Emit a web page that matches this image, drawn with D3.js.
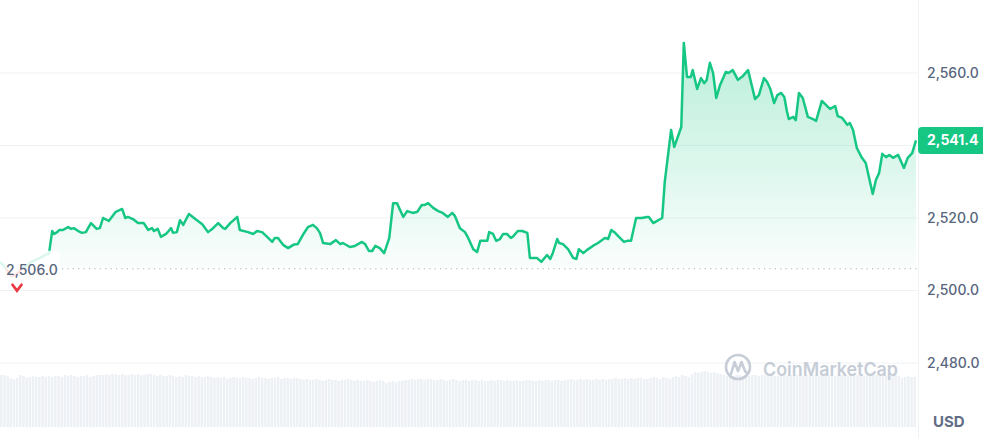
<!DOCTYPE html>
<html>
<head>
<meta charset="utf-8">
<script src="https://cdn.jsdelivr.net/npm/d3@7"></script>
<style>
  html, body { margin: 0; padding: 0; background: #fff; }
  svg { display: block; font-family: Inter, "Noto Sans", sans-serif; }
</style>
</head>
<body>
<svg id="chart" width="983" height="438"></svg>
<script>
// ---- DATA ----
// minutes since start of the 24h window
const times = [0,6,13,19,25,31,39,47,55,63,68,74,77,82,85,90,93,99,107,112,116,123,129,135,143,152,157,162,171,182,192,197,201,209,217,226,233,239,242,248,253,261,269,272,278,283,288,297,307,318,327,335,343,351,354,362,366,373,377,390,398,404,412,420,428,432,437,445,453,461,468,476,484,492,498,503,508,519,528,535,539,550,558,569,574,580,585,590,597,604,612,618,624,634,640,649,656,663,668,673,681,689,696,704,711,715,723,731,736,744,750,755,762,766,769,775,780,786,791,797,803,806,814,821,829,833,844,851,860,865,869,876,879,885,893,901,906,910,917,923,932,940,951,956,961,967,973,981,986,992,1000,1009,1017,1020,1027,1033,1041,1045,1055,1060,1071,1075,1080,1086,1089,1096,1102,1107,1111,1116,1121,1126,1132,1141,1145,1152,1160,1168,1176,1187,1193,1201,1206,1211,1217,1222,1228,1233,1237,1240,1247,1251,1256,1262,1270,1278,1283,1292,1300,1305,1313,1317,1324,1332,1336,1341,1347,1355,1361,1372,1377,1382,1387,1393,1398,1404,1412,1421,1427,1434,1440];
const prices = [2507.9,2506.8,2505.1,2504.0,2504.3,2505.4,2506.5,2507.6,2508.4,2509.0,2509.5,2510.1,2510.1,2516.4,2515.6,2516.1,2516.7,2516.7,2517.5,2517.0,2517.2,2516.4,2515.9,2516.1,2518.6,2517.0,2517.2,2520.0,2519.2,2521.7,2522.5,2520.0,2520.3,2519.7,2518.6,2518.6,2516.7,2517.2,2516.4,2517.0,2514.8,2515.6,2517.2,2515.9,2516.1,2519.4,2518.1,2521.1,2519.7,2518.3,2516.1,2517.2,2518.6,2517.2,2517.0,2518.6,2519.2,2520.3,2516.7,2516.1,2515.6,2516.4,2516.1,2514.8,2513.4,2514.5,2514.5,2512.6,2511.7,2512.6,2512.8,2515.3,2517.5,2518.1,2517.2,2515.9,2513.1,2512.8,2513.9,2512.8,2513.1,2512.0,2512.3,2513.4,2512.8,2510.9,2510.9,2512.3,2511.7,2510.3,2514.5,2524.1,2524.1,2520.3,2521.9,2521.4,2521.7,2523.6,2523.6,2524.1,2522.8,2521.9,2521.4,2520.3,2521.4,2520.6,2517.2,2516.1,2514.5,2511.4,2510.6,2513.7,2513.7,2513.7,2516.1,2515.6,2513.7,2514.2,2515.6,2515.6,2514.5,2514.8,2516.4,2516.4,2515.9,2509.0,2509.0,2507.9,2509.8,2508.7,2510.3,2514.2,2513.1,2512.8,2511.4,2509.0,2508.7,2511.4,2510.3,2511.2,2512.3,2513.1,2514.5,2514.2,2516.7,2515.9,2514.8,2513.4,2513.7,2513.7,2520.0,2520.0,2520.3,2520.3,2518.6,2519.2,2520.0,2529.9,2544.3,2539.6,2545.1,2568.3,2558.9,2558.9,2560.8,2555.6,2558.6,2557.2,2558.1,2562.8,2560.0,2553.1,2556.7,2560.3,2560.0,2560.8,2558.1,2559.2,2560.8,2552.8,2553.9,2558.6,2557.5,2555.6,2551.7,2553.9,2554.5,2553.4,2549.5,2547.3,2547.9,2547.0,2554.5,2553.1,2547.9,2547.3,2546.8,2552.3,2550.9,2550.1,2550.9,2548.1,2547.6,2545.7,2546.2,2544.3,2539.3,2536.6,2535.2,2526.6,2530.5,2532.4,2537.7,2536.8,2537.4,2536.6,2537.4,2533.8,2536.6,2537.9,2541.4];
// 5-minute volume bars (arbitrary units)
const volumes = [
52,52,51,49,48,49,52,51,49,50,51,50,50,51,50,51,50,51,51,50,52,51,52,51,50,51,51,52,50,51,52,52,
52,53,52,53,53,52,53,52,52,53,52,53,52,52,53,53,52,51,52,51,51,52,51,50,51,50,52,51,51,50,51,
50,50,51,50,49,50,49,50,48,49,50,49,49,50,49,49,48,49,50,49,49,48,49,49,50,48,49,49,48,49,49,48,
47,48,47,47,48,47,46,47,48,47,47,46,47,47,48,47,46,47,46,46,47,46,45,46,47,46,44,45,46,45,46,
46,47,47,48,47,48,48,47,48,48,47,47,48,47,46,47,48,47,46,47,47,46,47,47,46,47,46,46,47,46,47,47,
46,47,46,46,47,46,46,47,47,46,46,47,46,47,47,46,47,47,46,47,47,48,47,47,48,47,48,47,47,48,47,
48,47,48,48,49,48,48,49,48,49,48,49,49,48,48,49,50,49,48,50,49,48,50,51,50,52,51,50,
53,55,54,55,56,55,54,55,54,53,
52,51,52,51,52,52,51,52,51,52,52,51,52,52,51,52,51,51,52,52,51,52,51,52,52,51,52,51,52,52,51,52,52,51,52,51,52,52,51,51,52,51,52,52,51,52,51,52,52,51,52,51,50,51,52,51,49,50,51,50,50];
const yTicks = [2480, 2500, 2520, 2540, 2560];
const basePrice = 2506.0;
const currency = "USD";
const watermark = "CoinMarketCap";

// ---- LAYOUT ----
const W = 983, H = 438;
const plotRight = 918;
const green = "#16c784", red = "#ea3943";
const svg = d3.select("#chart");

const x = d3.scaleLinear().domain([0, 1440]).range([0, 916]);
const y = d3.scaleLinear().domain([2480, 2560]).range([363, 73]);
const xb = d3.scaleBand().domain(d3.range(volumes.length)).range([0, 916]).paddingInner(0.22);
const yv = d3.scaleLinear().domain([0, 60]).range([427, 367]);

const data = times.map((t, i) => ({t, p: prices[i]}));
const by = y(basePrice);
const last = prices[prices.length - 1];
const ly = y(last);

const defs = svg.append("defs");
const gGrad = defs.append("linearGradient").attr("id", "gfill")
  .attr("gradientUnits", "userSpaceOnUse").attr("x1", 0).attr("x2", 0)
  .attr("y1", y(d3.max(prices))).attr("y2", by);
gGrad.append("stop").attr("offset", 0).attr("stop-color", green).attr("stop-opacity", 0.3);
gGrad.append("stop").attr("offset", 1).attr("stop-color", green).attr("stop-opacity", 0.02);
const rGrad = defs.append("linearGradient").attr("id", "rfill")
  .attr("gradientUnits", "userSpaceOnUse").attr("x1", 0).attr("x2", 0)
  .attr("y1", by).attr("y2", y(d3.min(prices)));
rGrad.append("stop").attr("offset", 0).attr("stop-color", red).attr("stop-opacity", 0.02);
rGrad.append("stop").attr("offset", 1).attr("stop-color", red).attr("stop-opacity", 0.25);
defs.append("clipPath").attr("id", "above").append("rect")
  .attr("x", 0).attr("y", 0).attr("width", plotRight).attr("height", by);
defs.append("clipPath").attr("id", "below").append("rect")
  .attr("x", 0).attr("y", by).attr("width", plotRight).attr("height", H - by);

// grid lines
svg.append("g").selectAll("line").data(yTicks).join("line")
  .attr("x1", 0).attr("x2", plotRight)
  .attr("y1", d => y(d)).attr("y2", d => y(d))
  .attr("stroke", "#eff2f5").attr("stroke-width", 1);
svg.append("line").attr("x1", plotRight + 0.5).attr("x2", plotRight + 0.5)
  .attr("y1", 0).attr("y2", H).attr("stroke", "#eff2f5");

// volume bars
svg.append("g").selectAll("rect").data(volumes).join("rect")
  .attr("x", (d, i) => xb(i)).attr("width", xb.bandwidth())
  .attr("y", d => yv(d)).attr("height", d => yv(0) - yv(d))
  .attr("fill", "#edf0f4");

// watermark
const wm = svg.append("g").attr("fill", "none").attr("stroke", "#c6cdd7");
wm.append("circle").attr("cx", 738).attr("cy", 367).attr("r", 12).attr("stroke-width", 2.6);
wm.append("path").attr("d", "M731,374 L734.5,362 L738,371 L741.5,362 L745,371 Q747,374 749,372")
  .attr("stroke-width", 2.6).attr("stroke-linejoin", "round").attr("stroke-linecap", "round");
svg.append("text").attr("x", 763).attr("y", 375.5).text(watermark)
  .attr("font-size", 19).attr("font-weight", 600).attr("fill", "#c6cdd7")
  .attr("textLength", 135).attr("lengthAdjust", "spacingAndGlyphs");

// areas
const areaAbove = d3.area().x(d => x(d.t)).y0(by).y1(d => y(d.p)).curve(d3.curveLinear);
svg.append("path").datum(data).attr("d", areaAbove).attr("fill", "url(#gfill)").attr("clip-path", "url(#above)");
svg.append("path").datum(data).attr("d", areaAbove).attr("fill", "url(#rfill)").attr("clip-path", "url(#below)");

// baseline dotted line
svg.append("line").attr("x1", 62).attr("x2", plotRight).attr("y1", by).attr("y2", by)
  .attr("stroke", "#a6b0c3").attr("stroke-width", 1.2).attr("stroke-dasharray", "1.2,4.2");

// price line
const line = d3.line().x(d => x(d.t)).y(d => y(d.p)).curve(d3.curveLinear);
svg.append("path").datum(data).attr("d", line).attr("fill", "none")
  .attr("stroke", green).attr("stroke-width", 2.5).attr("stroke-linejoin", "round")
  .attr("clip-path", "url(#above)");
svg.append("path").datum(data).attr("d", line).attr("fill", "none")
  .attr("stroke", red).attr("stroke-width", 2.5).attr("stroke-linejoin", "round")
  .attr("clip-path", "url(#below)");

// baseline label
svg.append("rect").attr("x", 0).attr("y", by - 18).attr("width", 60).attr("height", 36)
  .attr("rx", 4).attr("fill", "#fff").attr("opacity", 0.85);
svg.append("text").attr("x", 6).attr("y", by + 1).attr("dy", "0.35em")
  .text(d3.format(",.1f")(basePrice))
  .attr("font-size", 14).attr("font-weight", 500).attr("fill", "#58667e");
svg.append("path").attr("d", `M12.5,${by + 16} L17,${by + 22} L21.5,${by + 16}`)
  .attr("fill", "none").attr("stroke", red).attr("stroke-width", 2.8)
  .attr("stroke-linejoin", "miter").attr("stroke-linecap", "round");

// y axis (right) — labels hidden behind the current price tag are dropped, as in the original
const axis = d3.axisRight(y).tickValues(yTicks.filter(v => Math.abs(y(v) - ly) > 16))
  .tickSize(0).tickPadding(9).tickFormat(d3.format(",.1f"));
const ag = svg.append("g").attr("transform", `translate(${plotRight},0)`).call(axis);
ag.select(".domain").remove();
ag.selectAll("text").attr("font-size", 14).attr("font-family", "Inter, sans-serif")
  .attr("fill", "#58667e").attr("font-weight", 500);

// current price tag
svg.append("path")
  .attr("d", `M${plotRight + 4},${ly - 13.5} H${W} V${ly + 13.5} H${plotRight + 4} Q${plotRight},${ly + 13.5} ${plotRight},${ly + 9.5} V${ly - 9.5} Q${plotRight},${ly - 13.5} ${plotRight + 4},${ly - 13.5} Z`)
  .attr("fill", green);
svg.append("text").attr("x", 927).attr("y", ly).attr("dy", "0.35em")
  .text(d3.format(",.1f")(last))
  .attr("font-size", 14).attr("font-weight", 700).attr("fill", "#fff");

// currency
svg.append("text").attr("x", 933).attr("y", 427).text(currency)
  .attr("font-size", 15).attr("font-weight", 700).attr("fill", "#616e85");
</script>
</body>
</html>
